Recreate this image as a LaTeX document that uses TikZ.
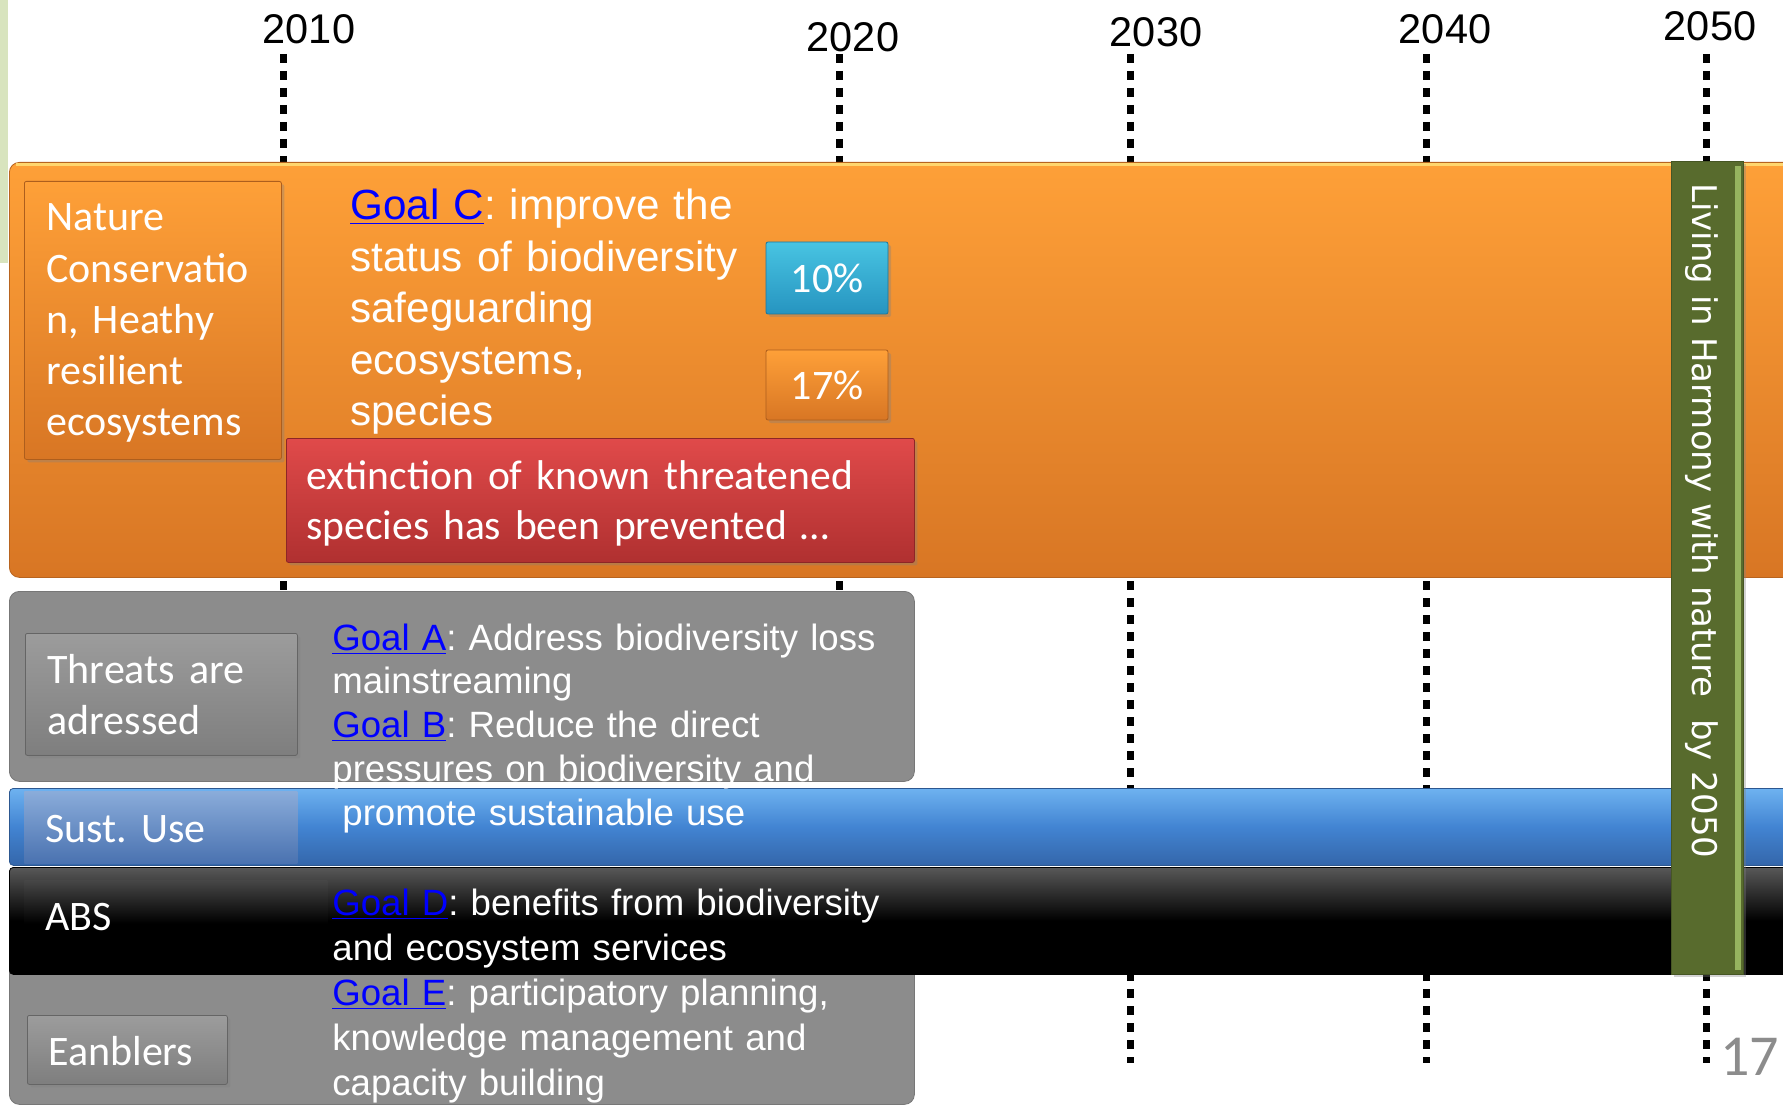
\documentclass[tikz,border=0pt]{standalone}
\usepackage{fontspec}
\setmainfont{Carlito}
\newfontfamily\arialfont{Liberation Sans}
\newfontfamily\verdfont{DejaVu Sans}
\usetikzlibrary{shadows}
\frenchspacing
\newcommand*{\px}{0.5pt}
\newcommand*{\lab}{\fontsize{21}{25.6}\selectfont}
\newcommand*{\labR}{\fontsize{20.8}{25}\selectfont}
\newcommand*{\goalC}{\arialfont\fontsize{21.1}{25.75}\selectfont}
\newcommand*{\goalAB}{\arialfont\fontsize{18.3}{21.9}\selectfont}
\newcommand*{\goalDE}{\arialfont\fontsize{18.3}{22.6}\selectfont}
\newcommand*{\goal}[1]{\textcolor{blue}{\underline{Goal #1}}}
\definecolor{sage}{RGB}{216,228,190}
\definecolor{orTop}{RGB}{254,160,56}
\definecolor{orBot}{RGB}{216,118,36}
\definecolor{orHi}{RGB}{255,214,110}
\definecolor{cyTop}{RGB}{72,196,226}
\definecolor{cyBot}{RGB}{38,148,192}
\definecolor{rdTop}{RGB}{224,74,74}
\definecolor{rdBot}{RGB}{176,48,48}
\definecolor{gyMid}{RGB}{140,140,140}
\definecolor{gyTop}{RGB}{156,156,156}
\definecolor{gyBot}{RGB}{126,126,126}
\definecolor{blHi}{RGB}{110,178,240}
\definecolor{blMid}{RGB}{66,132,210}
\definecolor{blBot}{RGB}{52,102,170}
\definecolor{suTop}{RGB}{138,172,218}
\definecolor{suBot}{RGB}{74,114,176}
\definecolor{bkTop}{RGB}{88,88,88}
\definecolor{olive}{RGB}{88,107,45}
\definecolor{oliveHi}{RGB}{150,180,95}
\definecolor{pgno}{RGB}{140,140,140}
\tikzset{
	band/.style n args={2}{
		rectangle,
		rounded corners=5pt,
		top color=#1,
		bottom color=#2,
		draw=#2!85!black,
		anchor=north west,
		},
	tile/.style n args={2}{
		rectangle,
		rounded corners=1pt,
		top color=#1,
		bottom color=#2,
		draw=#2!80!black,
		drop shadow={shadow xshift=1.5pt, shadow yshift=-1.5pt, opacity=0.35},
		inner sep=0pt,
		},
	txt/.style n args={2}{
		anchor=base west,
		inner sep=0pt,
		text=white,
		align=left,
		text width=#2*\px,
		font=#1,
		},
	year/.style={anchor=base, inner sep=0pt, font=\arialfont\fontsize{20.75}{24}\selectfont},
	yearline/.style={line width=3.5pt, dash pattern=on 4.5pt off 4pt},
	}

\begin{document}
\begin{tikzpicture}[x=\px, y=-\px]
	\useasboundingbox (0,0) rectangle (1783,1107);
	\clip (0,0) rectangle (1783,1107);
	\fill [sage] (0,0) rectangle (8,263);
	\foreach \yr/\lx/\ly/\tx/\ty in {2010/283/600/309/44, 2020/839/600/853/52, 2030/1130/1063/1156/47, 2040/1426/1063/1445/44, 2050/1706/1063/1710/41} {
		\node (y\yr) [year] at (\tx,\ty) {\yr};
		\coordinate (t\yr) at (\lx,54);
		\coordinate (b\yr) at (\lx,\ly);
		\draw [yearline] (t\yr) -- (b\yr);
	};
	% nature conservation
	\node (cons) [band={orTop}{orBot}, minimum width=1800*\px, minimum height=415*\px] at (9,162) {};
	\draw [orHi, line width=1.5pt] (16,165) -- (1783,165);
	\node (nature) [tile={orTop}{orBot}, anchor=north west, minimum width=257*\px, minimum height=278*\px] at (24,181) {};
	\node (ten) [tile={cyTop}{cyBot}, minimum width=122*\px, minimum height=72*\px, text=white, font=\lab] at (827,278) {10\%};
	\node (svt) [tile={orTop}{orBot}, minimum width=122*\px, minimum height=70*\px, text=white, font=\lab] at (827,385) {17\%};
	\node (extinct) [tile={rdTop}{rdBot}, anchor=north west, minimum width=628*\px, minimum height=124*\px] at (286,438) {};
	% threats, enablers
	\node (threats) [band={gyMid}{gyMid}, minimum width=905*\px, minimum height=190*\px] at (9,591) {};
	\node (enable) [band={gyMid}{gyMid}, minimum width=905*\px, minimum height=144*\px] at (9,960) {};
	\node (threatsBox) [tile={gyTop}{gyBot}, anchor=north west, minimum width=272*\px, minimum height=122*\px] at (25,633) {};
	\node (enableBox) [tile={gyTop}{gyBot}, anchor=north west, minimum width=200*\px, minimum height=69*\px] at (27,1015) {};
	% sustainable use, abs
	\node (sust) [band={blHi}{blBot}, middle color=blMid, rounded corners=2pt, minimum width=1800*\px, minimum height=77*\px] at (9,788) {};
	\node (sustBox) [rectangle, top color=suTop, bottom color=suBot, anchor=north west, minimum width=273*\px, minimum height=72*\px] at (24,791) {};
	\node (abs) [band={bkTop}{black}, middle color=black, rounded corners=2pt, minimum width=1800*\px, minimum height=107*\px] at (9,867) {};
	\node (absBox) [rectangle, top color=bkTop!80!black, bottom color=black, middle color=black, anchor=north west, minimum width=303*\px, minimum height=86*\px] at (24,880) {};
	% harmony with nature
	\node (harmony) [rectangle, fill=olive, draw=olive!80!black, anchor=north west, minimum width=72*\px, minimum height=813*\px, drop shadow={shadow xshift=1.5pt, shadow yshift=-1.5pt, opacity=0.35}] at (1671,161) {};
	\fill [oliveHi] (1735,166) rectangle (1741,970);
	\node (harmonyTxt) [anchor=base west, rotate=-90, inner sep=0pt, text=white, font=\verdfont\fontsize{17}{20}\selectfont] at (1692,183) {Living in Harmony with nature\ \ by 2050};
	% texts
	\node (natureTxt) [txt={\lab}{250}] at (46,231) {Nature\\Conservatio\\n, Heathy\\resilient\\ecosystems};
	\node (goalC) [txt={\goalC}{420}] at (350,220) {\goal{C}: improve the\\status of biodiversity\\safeguarding\\ecosystems,\\species};
	\node (extinctTxt) [txt={\labR}{620}] at (306,489) {extinction of known threatened\\species has been prevented \ldots};
	\node (threatsTxt) [txt={\lab}{260}] at (47,683) {Threats are\\adressed};
	\node (goalAB) [txt={\goalAB}{600}] at (332,650) {\goal{A}: Address biodiversity loss\\mainstreaming\\\goal{B}: Reduce the direct\\pressures on biodiversity and\\\hspace*{5pt}promote sustainable use};
	\node (sustTxt) [txt={\lab}{260}] at (45,842) {Sust. Use};
	\node (absTxt) [txt={\lab}{260}] at (45,930) {ABS};
	\node (goalD) [txt={\goalDE}{600}] at (332,915) {\goal{D}: benefits from biodiversity\\and ecosystem services};
	\node (goalE) [txt={\goalDE}{600}] at (332,1005) {\goal{E}: participatory planning,\\knowledge management and\\capacity building};
	\node (enableTxt) [txt={\lab}{200}] at (48,1065) {Eanblers};
	\node (pgnum) [anchor=base west, inner sep=0pt, text=pgno, font=\fontsize{29}{34}\selectfont] at (1720,1075) {17};
\end{tikzpicture}
\end{document}
